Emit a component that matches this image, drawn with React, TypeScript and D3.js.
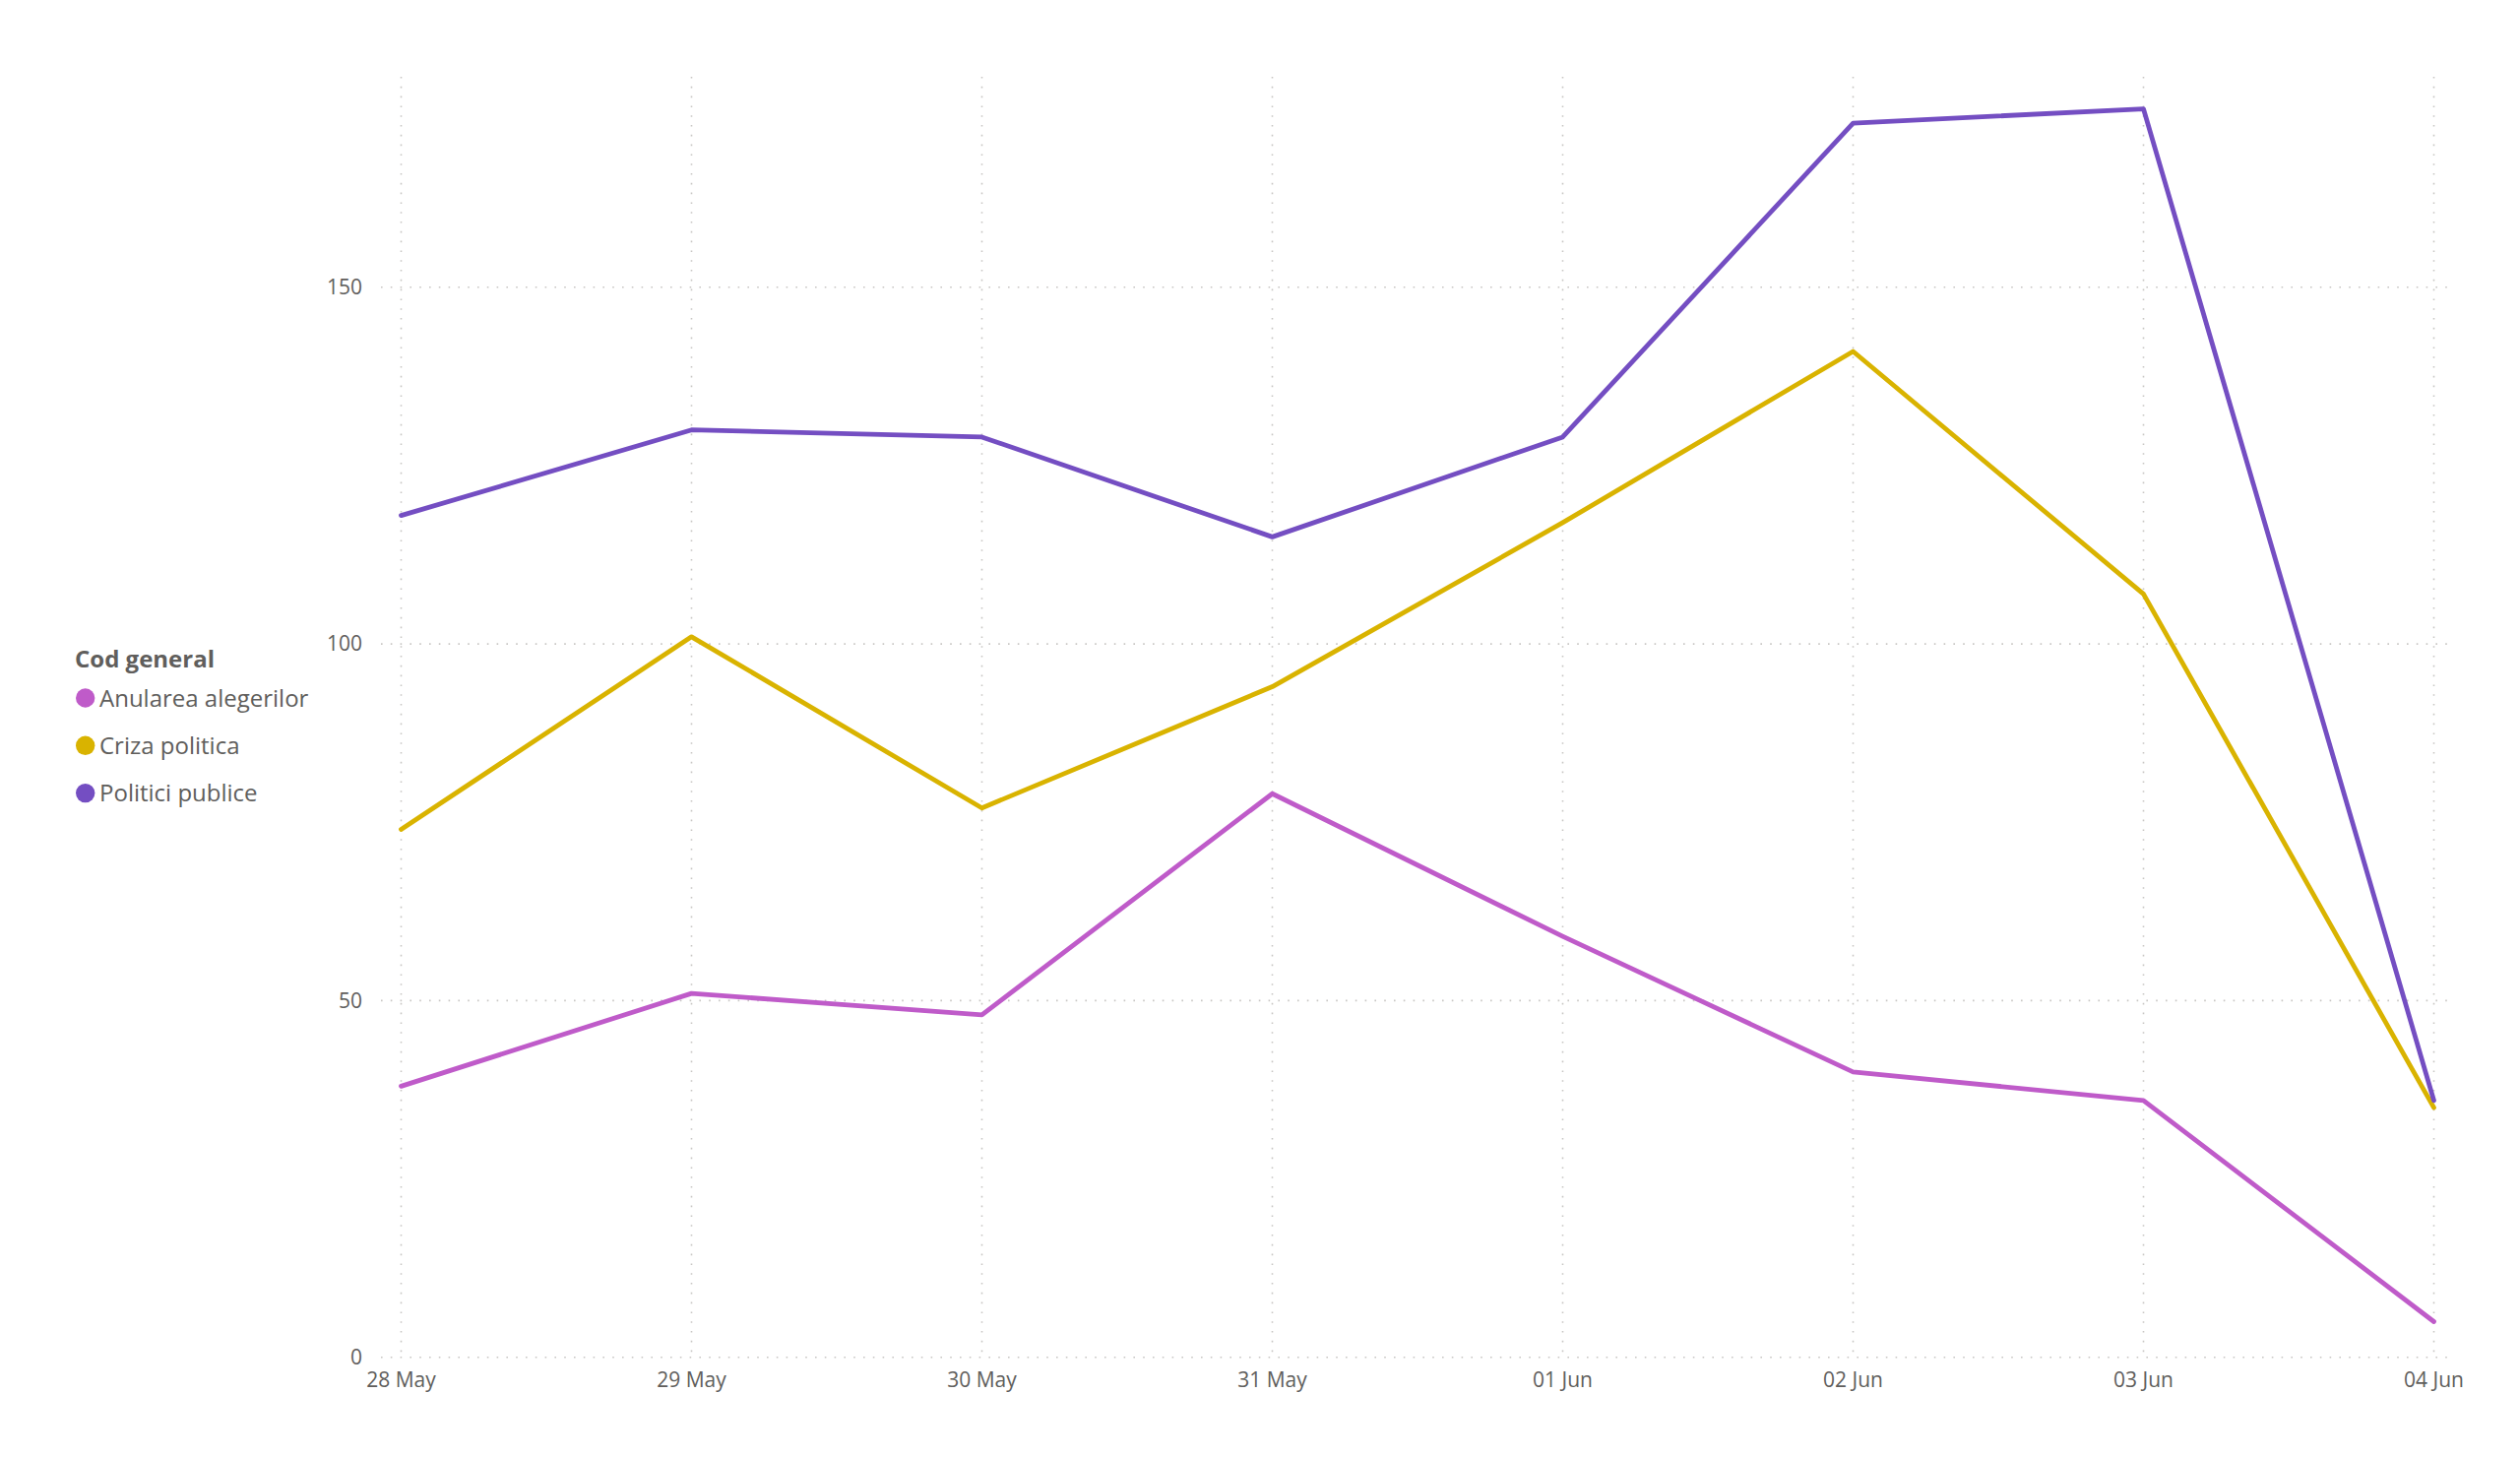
import React from "react";
import * as d3 from "d3";

const dates = ["28 May", "29 May", "30 May", "31 May", "01 Jun", "02 Jun", "03 Jun", "04 Jun"];
const seriesNames = ["Anularea alegerilor", "Criza politica", "Politici publice"];
const anulareaValues = [38, 51, 48, 79, 59, 40, 36, 5];
const crizaValues = [74, 101, 77, 94, 117, 141, 107, 35];
const politiciValues = [118, 130, 129, 115, 129, 173, 175, 36];
const seriesColors = ["#BF5BC9", "#D9B300", "#744EC2"];
const yTicks = [0, 50, 100, 150];
const legendTitle = "Cod general";

const W = 2560;
const H = 1480;
const FONT = "'Segoe UI', 'Open Sans', 'Noto Sans', sans-serif";

export default function App() {
  const allSeries = [anulareaValues, crizaValues, politiciValues];
  const x = d3.scalePoint<string>().domain(dates).range([407.5, 2472.5]);
  const y = d3.scaleLinear().domain([0, 179.5]).range([1378.7, 78]);
  const gridLeft = 387;
  const gridRight = 2488;
  const line = d3
    .line<number>()
    .x((_, i) => x(dates[i]) as number)
    .y((d) => y(d));

  return (
    <svg
      width={W}
      height={H}
      style={{ position: "absolute", left: 0, top: 0, background: "#fff" }}
      fontFamily={FONT}
    >
      <rect x={0} y={0} width={W} height={H} fill="#fff" />
      {/* horizontal grid */}
      {yTicks.map((t) => (
        <line
          key={"h" + t}
          x1={gridLeft}
          x2={gridRight}
          y1={y(t)}
          y2={y(t)}
          stroke="#c8c6c4"
          strokeWidth={1.6}
          strokeDasharray="1.6 8.2"
        />
      ))}
      {/* vertical grid */}
      {dates.map((d) => (
        <line
          key={"v" + d}
          x1={x(d)}
          x2={x(d)}
          y1={y.range()[1]}
          y2={y(0)}
          stroke="#c8c6c4"
          strokeWidth={1.6}
          strokeDasharray="1.6 8.2"
        />
      ))}
      {/* y labels */}
      {yTicks.map((t) => (
        <text
          key={"yl" + t}
          x={368}
          y={y(t)}
          dy="0.35em"
          textAnchor="end"
          fontSize={21}
          fill="#605E5C"
        >
          {t}
        </text>
      ))}
      {/* x labels */}
      {dates.map((d) => (
        <text key={"xl" + d} x={x(d)} y={1409} textAnchor="middle" fontSize={21} fill="#605E5C">
          {d}
        </text>
      ))}
      {/* lines */}
      {allSeries.map((vals, i) => (
        <path
          key={"s" + i}
          d={line(vals) || ""}
          fill="none"
          stroke={seriesColors[i]}
          strokeWidth={4.8}
          strokeLinejoin="round"
          strokeLinecap="round"
        />
      ))}
      {/* legend */}
      <text x={76} y={678} fontSize={24} fontWeight="bold" fill="#605E5C">
        {legendTitle}
      </text>
      {seriesNames.map((n, i) => (
        <g key={"lg" + i} transform={`translate(0, ${709 + i * 48.3})`}>
          <circle cx={86.7} cy={0} r={9.7} fill={seriesColors[i]} />
          <text x={101} y={0} dy="0.36em" fontSize={24} fill="#605E5C">
            {n}
          </text>
        </g>
      ))}
    </svg>
  );
}
